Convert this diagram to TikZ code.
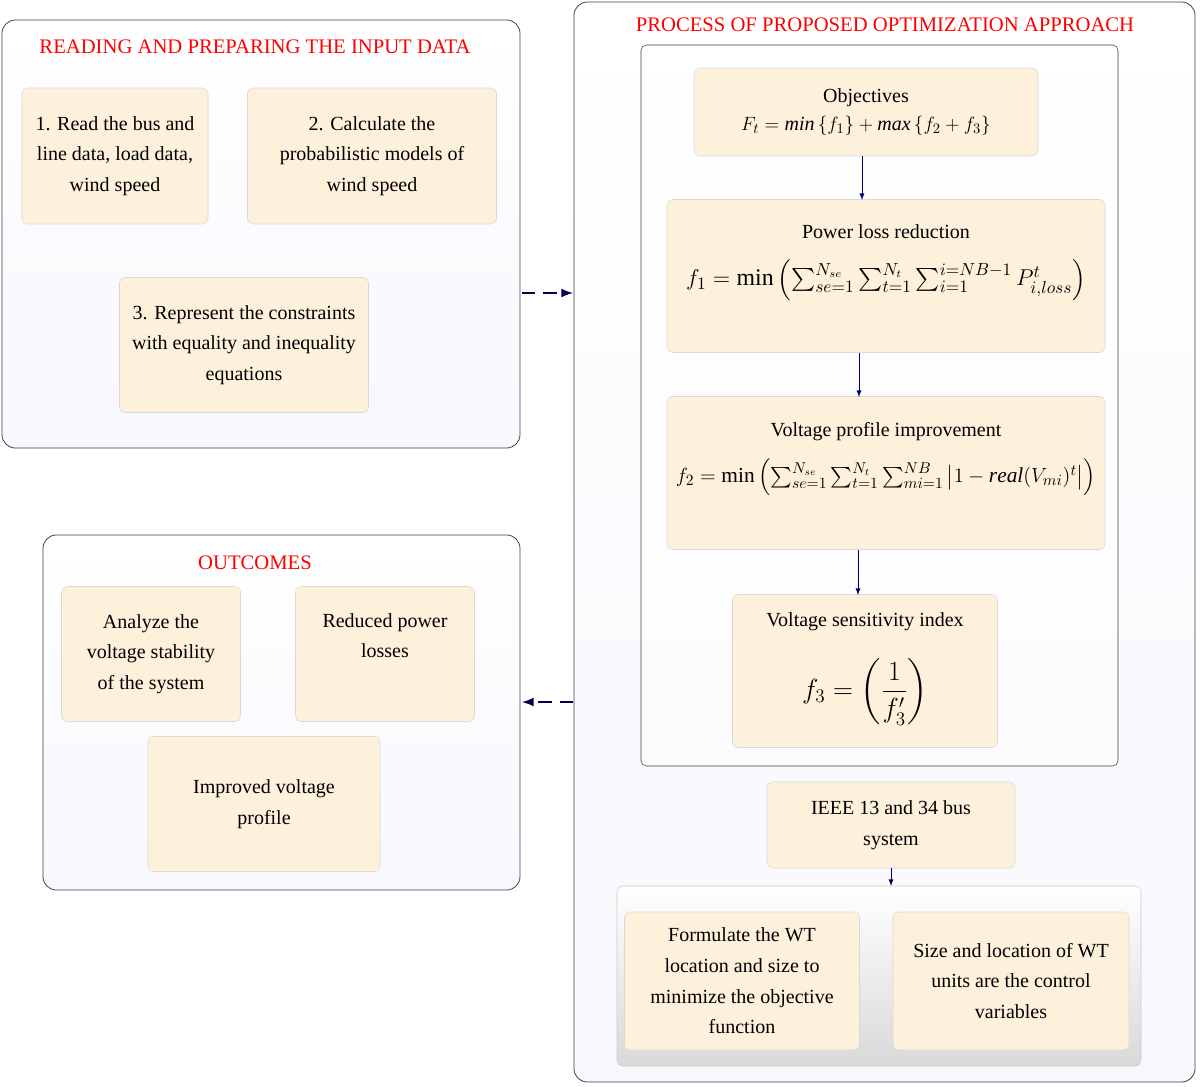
\documentclass[tikz,border=0pt]{standalone}
\usepackage{fontspec}
\setmainfont{Liberation Serif}
\usepackage{amsmath}
\usepackage{graphicx}
\begin{document}
\begin{tikzpicture}[x=0.75pt,y=-0.75pt,
panel/.style={draw=black!75,rounded corners=10pt,top color=white,bottom color=black!12!blue!3!white,line width=0.6pt},
box/.style={draw=black!15,fill=yellow!20!orange!12!white,rounded corners=4pt,align=center,inner sep=2pt,font=\fontsize{15}{23}\selectfont},
ttl/.style={text=red,font=\fontsize{15.5}{20}\selectfont},
darr/.style={-latex,draw=blue!30!black,line width=2pt,dash pattern=on 10pt off 6pt},
sarr/.style={-latex,draw=blue!40!black,line width=0.7pt}]
\useasboundingbox (0,0) rectangle (1200,1086);
% left top panel
\draw[panel] (2,20) rectangle (520,448);
\node[ttl] (t1) at (255,47) {READING AND PREPARING THE INPUT DATA};
\node[box,minimum width=186*0.75pt,minimum height=136*0.75pt] (b1) at (115,156) {1. Read the bus and\\line data, load data,\\wind speed};
\node[box,minimum width=249*0.75pt,minimum height=136*0.75pt] (b2) at (372,156) {2. Calculate the\\probabilistic models of\\wind speed};
\node[box,minimum width=249*0.75pt,minimum height=135*0.75pt] (b3) at (244,345) {3. Represent the constraints\\with equality and inequality\\equations};
% outcomes panel
\draw[panel] (43,535) rectangle (520,890);
\node[ttl] (t2) at (255,563) {OUTCOMES};
\node[box,minimum width=179*0.75pt,minimum height=135*0.75pt] (o1) at (151,654) {Analyze the\\voltage stability\\of the system};
\node[box,minimum width=179*0.75pt,minimum height=135*0.75pt] (o2) at (385,654) {Reduced power\\losses\\[-2pt]\strut};
\node[box,minimum width=232*0.75pt,minimum height=135*0.75pt] (o3) at (264,804) {Improved voltage\\profile};
% right panel
\draw[panel] (574,2) rectangle (1195,1082);
\node[ttl] (t3) at (885,25) {PROCESS OF PROPOSED OPTIMIZATION APPROACH};
\draw[draw=black!75,fill=white,fill opacity=0.5,rounded corners=4pt] (641,45) rectangle (1118,766);
\node[box,minimum width=344*0.75pt,minimum height=88*0.75pt] (p0) at (866,112) {Objectives\\[-2pt]$F_t = \mathit{min}\,\{f_1\} + \mathit{max}\,\{f_2+f_3\}$};
\node[box,minimum width=438*0.75pt,minimum height=153*0.75pt] (p1) at (886,276) {Power loss reduction\\[12pt]\resizebox{300pt}{!}{$f_1=\min\left(\sum_{se=1}^{N_{se}}\sum_{t=1}^{N_t}\sum_{i=1}^{i=NB-1}P_{i,loss}^{t}\right)$}\\[8pt]};
\node[box,minimum width=438*0.75pt,minimum height=153*0.75pt] (p2) at (886,473) {Voltage profile improvement\\[12pt]\resizebox{315pt}{!}{$f_2=\min\left(\sum_{se=1}^{N_{se}}\sum_{t=1}^{N_t}\sum_{mi=1}^{NB}\left|1-\mathit{real}(V_{mi})^t\right|\right)$}\\[8pt]};
\node[box,minimum width=265*0.75pt,minimum height=153*0.75pt] (p3) at (865,671) {Voltage sensitivity index\\[20pt]{\fontsize{22}{26}\selectfont$f_3=\left(\dfrac{1}{f_3'}\right)$}\\[0pt]};
\node[box,minimum width=248*0.75pt,minimum height=86*0.75pt] (p4) at (891,825) {IEEE 13 and 34 bus\\system};
\draw[draw=black!20,top color=white,bottom color=black!15,rounded corners=4pt] (617,886) rectangle (1141,1066);
\coordinate (p5) at (891,886);
\node[box,minimum width=235*0.75pt,minimum height=138*0.75pt] (p6) at (742,981) {Formulate the WT\\location and size to\\minimize the objective\\function};
\node[box,minimum width=236*0.75pt,minimum height=138*0.75pt] (p7) at (1011,981) {Size and location of WT\\units are the control\\variables};
% arrows
\draw[sarr] (862,156) -- (862,200);
\draw[sarr] (859,353) -- (859,397);
\draw[sarr] (858,550) -- (858,595);
\draw[sarr] (p4.south) -- (p5);
\coordinate (a1) at (522,293); \coordinate (a2) at (573,293);
\coordinate (a3) at (573,702); \coordinate (a4) at (522,702);
\draw[darr] (a1) -- (a2);
\draw[darr] (a3) -- (a4);
\end{tikzpicture}
\end{document}
